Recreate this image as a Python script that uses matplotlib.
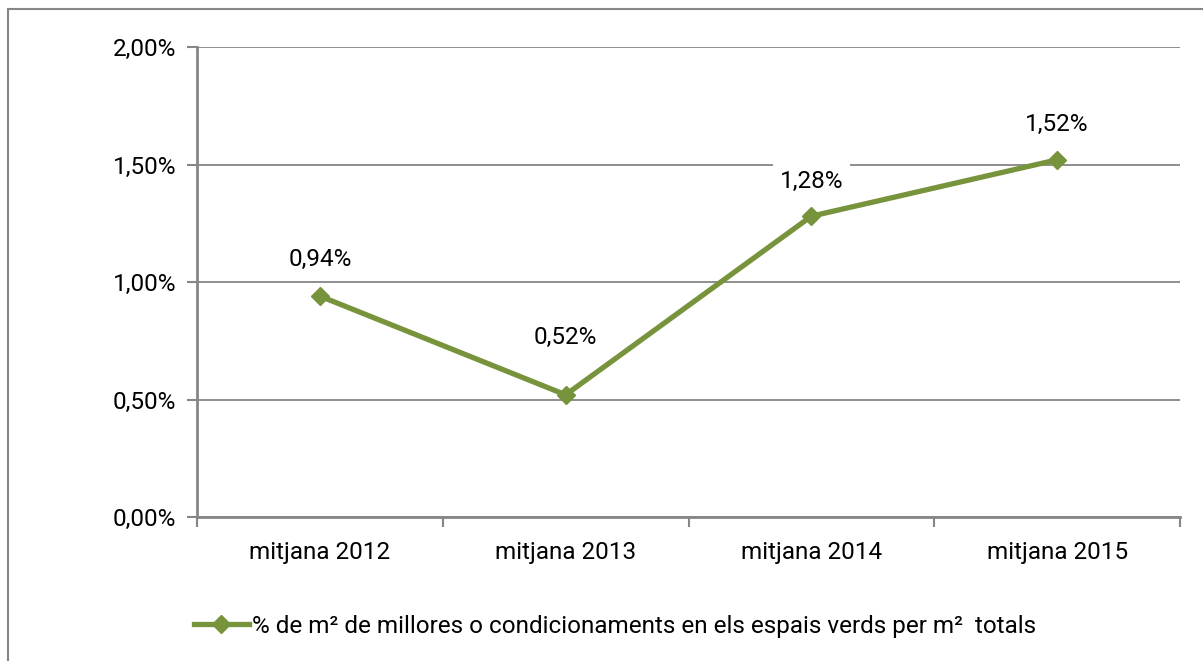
import matplotlib
matplotlib.use("Agg")
import matplotlib.pyplot as plt
from matplotlib.patches import Rectangle
from matplotlib.ticker import FuncFormatter, MultipleLocator

categories = ["mitjana 2012", "mitjana 2013", "mitjana 2014", "mitjana 2015"]
values = [0.94, 0.52, 1.28, 1.52]
labels = ["0,94%", "0,52%", "1,28%", "1,52%"]
series_name = "% de m² de millores o condicionaments en els espais verds per m²  totals"

plt.rcParams['font.family'] = ['Roboto', 'DejaVu Sans']
FS = 17.5

W, H = 1203, 661
fig = plt.figure(figsize=(W / 100, H / 100), dpi=100)
ax = fig.add_axes([197 / W, 1 - 517 / H, (1180 - 197) / W, (517 - 47) / H])

color = "#77933C"
grey = "#868686"
x = list(range(len(categories)))
line, = ax.plot(x, values, color=color, lw=3.8, marker="D", ms=9.5,
                markerfacecolor=color, markeredgecolor=color, zorder=3, clip_on=False)

label_offsets = [37, 57, 35, 35]
for xi, v, lab, off in zip(x, values, labels, label_offsets):
    ax.annotate(lab, (xi, v), xytext=(0, off), textcoords="offset pixels",
                ha="center", va="center", fontsize=FS, color="black",
                bbox=dict(boxstyle="square,pad=0.28", fc="white", ec="none"), zorder=4)

ax.set_xlim(-0.5, 3.5)
ax.set_ylim(0, 2.0)
ax.yaxis.set_major_locator(MultipleLocator(0.5))
ax.yaxis.set_major_formatter(FuncFormatter(lambda v, p: f"{v:.2f}%".replace(".", ",")))
ax.set_xticks(x)
ax.set_xticklabels(categories)
ax.set_xticks([-0.5, 0.5, 1.5, 2.5, 3.5], minor=True)
ax.tick_params(axis="x", which="major", length=0, pad=17, labelsize=FS)
ax.tick_params(axis="x", which="minor", length=7, width=1.5, color=grey)
ax.tick_params(axis="y", length=7, width=1.5, color=grey, pad=8, labelsize=FS)
ax.grid(axis="y", color=grey, lw=1.3, zorder=0)
for s in ["top", "right"]:
    ax.spines[s].set_visible(False)
for s in ["left", "bottom"]:
    ax.spines[s].set_color(grey)
    ax.spines[s].set_linewidth(2.0)
ax.set_axisbelow(True)

fig.legend([line], [series_name], loc="center", bbox_to_anchor=(615 / W, 1 - 626 / H),
           frameon=False, fontsize=FS, handlelength=2.3, handletextpad=0.12,
           borderpad=0)

fig.patches.append(Rectangle((8 / W, -0.05), 1.1, 1 - 9 / H + 0.05, transform=fig.transFigure,
                             fill=False, ec=grey, lw=1.5, zorder=0))

fig.savefig("out.png", dpi=100)
